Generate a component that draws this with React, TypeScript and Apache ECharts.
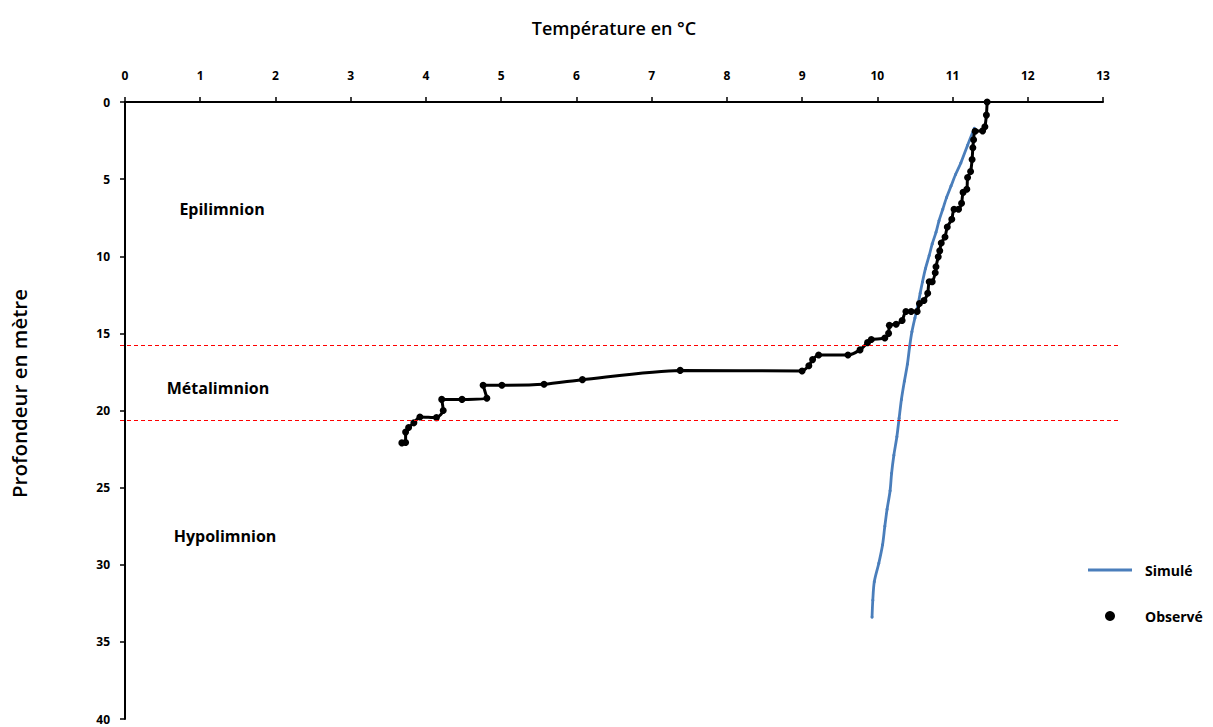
import React, { useEffect, useRef } from "react";
import * as echarts from "echarts";

const xTicks = [0, 13, 1];
const yTicks = [0, 40, 5];

// Observed profile: [temperature °C, depth m]
const observed: [number, number][] = [
  [11.46, 0], [11.45, 0.85], [11.43, 1.6], [11.40, 1.87], [11.30, 1.9],
  [11.28, 2.45], [11.27, 2.96], [11.26, 3.73], [11.24, 4.5], [11.20, 4.9],
  [11.19, 5.66], [11.14, 5.86], [11.12, 6.56], [11.08, 6.95], [11.02, 6.95],
  [10.99, 7.6], [10.93, 8.1], [10.90, 8.75], [10.85, 9.14], [10.83, 9.65],
  [10.81, 10.04], [10.78, 10.68], [10.77, 11.07], [10.73, 11.65], [10.69, 11.65],
  [10.67, 12.4], [10.62, 12.87], [10.56, 13.06], [10.53, 13.58], [10.45, 13.58],
  [10.38, 13.58], [10.33, 14.16], [10.25, 14.41], [10.16, 14.48], [10.15, 15.0],
  [10.1, 15.3], [9.92, 15.4], [9.87, 15.6], [9.77, 16.07], [9.61, 16.4],
  [9.22, 16.4], [9.14, 16.7], [9.09, 17.1], [9.0, 17.44], [7.38, 17.4],
  [6.08, 18.0], [5.57, 18.3], [5.01, 18.36], [4.76, 18.36], [4.81, 19.2],
  [4.48, 19.28], [4.21, 19.28], [4.23, 20.0], [4.14, 20.46], [3.92, 20.42],
  [3.84, 20.8], [3.77, 21.1], [3.73, 21.4], [3.73, 22.07], [3.68, 22.1],
];

// Simulated profile: [temperature °C, depth m]
const simulated: [number, number][] = [
  [11.29, 1.7], [11.2, 2.8], [11.11, 3.95], [11.04, 4.7], [10.98, 5.45],
  [10.92, 6.2], [10.87, 6.95], [10.82, 7.7], [10.78, 8.45], [10.73, 9.2],
  [10.69, 9.95], [10.64, 10.8], [10.6, 11.67], [10.57, 12.4], [10.54, 13.17],
  [10.5, 14.0], [10.46, 14.9], [10.43, 15.85], [10.4, 17.0], [10.36, 18.1],
  [10.32, 19.3], [10.29, 20.5], [10.26, 21.7], [10.22, 22.9], [10.19, 24.07],
  [10.17, 25.2], [10.13, 26.4], [10.1, 27.5], [10.07, 28.7], [10.02, 29.9],
  [9.96, 31.1], [9.94, 32.3], [9.93, 33.4],
];

const layerLimits = [15.8, 20.6];
const layerNames = ["Epilimnion", "Métalimnion", "Hypolimnion"];

const FONT = "'Open Sans', Lato, sans-serif";

const GRID_LEFT = 120;
const LINE_END_X = 1120;

function limitLine(v: number, y?: number) {
  const lineStyle = { color: "#FF0000", width: 1, type: [4, 3], opacity: 1 };
  return {
    silent: true,
    symbol: ["none", "none"],
    label: { show: false },
    emphasis: { disabled: true },
    lineStyle,
    data:
      y === undefined
        ? [{ yAxis: v, lineStyle }]
        : [[{ x: GRID_LEFT, y, lineStyle }, { x: LINE_END_X, y }]],
  };
}

export default function App() {
  const ref = useRef<HTMLDivElement>(null);
  useEffect(() => {
    if (!ref.current) return;
    const chart = echarts.init(ref.current, null, { renderer: "svg" });
    const labelPos = [
      [222, 209],
      [218, 388],
      [225, 536],
    ];
    chart.setOption({
      animation: false,
      backgroundColor: "#ffffff",
      textStyle: { fontFamily: FONT },
      grid: { left: GRID_LEFT, top: 102, width: 983, height: 617, containLabel: false },
      xAxis: {
        type: "value",
        position: "top",
        min: xTicks[0],
        max: xTicks[1],
        interval: xTicks[2],
        name: "Température en °C",
        nameLocation: "middle",
        nameGap: 65,
        nameTextStyle: { fontSize: 18, fontWeight: 600, color: "#000", fontFamily: FONT },
        axisLine: { show: true, lineStyle: { color: "#000", width: 2 } },
        axisTick: { show: true, length: 5, lineStyle: { color: "#000", width: 1.5 } },
        axisLabel: { fontSize: 12, fontWeight: "bold", color: "#000", margin: 21, fontFamily: FONT },
        splitLine: { show: false },
      },
      yAxis: {
        type: "value",
        inverse: true,
        min: yTicks[0],
        max: yTicks[1],
        interval: yTicks[2],
        name: "Profondeur en mètre",
        nameLocation: "middle",
        nameGap: 96,
        nameTextStyle: {
          fontSize: 20.5,
          fontWeight: 600,
          color: "#000",
          fontFamily: FONT,
          padding: [0, 0, 0, 34],
        },
        axisLine: { show: true, lineStyle: { color: "#000", width: 2 } },
        axisTick: { show: true, length: 5, lineStyle: { color: "#000", width: 1.5 } },
        axisLabel: { fontSize: 12, fontWeight: "bold", color: "#000", margin: 15, fontFamily: FONT },
        splitLine: { show: false },
      },
      legend: {
        orient: "vertical",
        left: 1083,
        top: 558,
        itemWidth: 44,
        itemHeight: 10,
        itemGap: 32,
        data: [
          { name: "Simulé", icon: "path://M0,0H44V3H0Z" },
          { name: "Observé", icon: "circle" },
        ],
        textStyle: { fontSize: 14, fontWeight: "bold", color: "#000", fontFamily: FONT, padding: [0, 0, 0, 8] },
      },
      graphic: layerNames.map((t, i) => ({
        type: "text",
        x: labelPos[i][0],
        y: labelPos[i][1],
        silent: true,
        style: {
          text: t,
          fill: "#000",
          font: `bold 16px ${FONT}`,
          textAlign: "center",
          textVerticalAlign: "middle",
        },
      })),
      series: [
        {
          name: "Simulé",
          type: "line",
          data: simulated,
          smooth: 0.3,
          symbol: "circle",
          symbolSize: 3,
          lineStyle: { color: "#4A7EBB", width: 2.8 },
          itemStyle: { color: "#4A7EBB" },
          z: 2,
          markLine: limitLine(layerLimits[0]),
        },
        {
          name: "Observé",
          type: "line",
          data: observed,
          smooth: 0.25,
          symbol: "circle",
          symbolSize: 7,
          showAllSymbol: true,
          lineStyle: { color: "#000", width: 3 },
          itemStyle: { color: "#000" },
          z: 3,
          markLine: limitLine(layerLimits[1]),
        },
      ],
    });
    // Extend the layer limits past the plot's right edge, as in the original,
    // using the y axis scale to place them.
    const y0 = chart.convertToPixel({ yAxisIndex: 0 }, layerLimits[0]) as number;
    const y1 = chart.convertToPixel({ yAxisIndex: 0 }, layerLimits[1]) as number;
    chart.setOption({
      series: [
        { name: "Simulé", markLine: limitLine(layerLimits[0], y0) },
        { name: "Observé", markLine: limitLine(layerLimits[1], y1) },
      ],
    });
    return () => chart.dispose();
  }, []);
  return (
    <div
      ref={ref}
      style={{ position: "fixed", left: 0, top: 0, width: 1213, height: 727, background: "#fff" }}
    />
  );
}
